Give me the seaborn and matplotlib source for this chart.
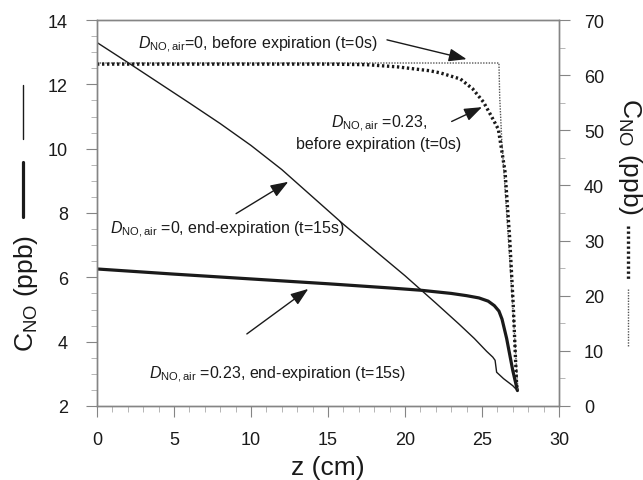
import seaborn as sns
import matplotlib.pyplot as plt
from matplotlib.lines import Line2D
from matplotlib.ticker import MultipleLocator

# D_NO,air = 0, end-expiration (t=15s)  -> left axis, thin solid
z_end_d0 = [0, 2, 4, 6, 8, 10, 12, 14, 16, 18, 20, 22, 23.5, 24.5, 25.3, 25.7, 25.85,
            25.95, 26.4, 27.0, 27.3]
c_end_d0 = [13.3, 12.68, 12.05, 11.42, 10.78, 10.1, 9.35, 8.5, 7.65, 6.85, 6.05, 5.2,
            4.55, 4.1, 3.7, 3.52, 3.42, 3.05, 2.85, 2.63, 2.48]

# D_NO,air = 0.23, end-expiration (t=15s) -> left axis, thick solid
z_end_d23 = [0, 5, 10, 15, 19, 21, 23, 24, 24.8, 25.4, 25.8, 26.1, 26.3, 26.6, 27.0, 27.3]
c_end_d23 = [6.26, 6.1, 5.95, 5.8, 5.67, 5.6, 5.5, 5.43, 5.36, 5.26, 5.12, 4.95, 4.7,
             4.1, 3.1, 2.48]

# D_NO,air = 0.23, before expiration (t=0s) -> right axis, thick dotted
z_pre_d23 = [0, 15, 17.5, 19.5, 21.6, 22.3, 23.6, 24.4, 25.1, 25.6, 26.06, 26.3, 26.5,
             26.8, 27.03, 27.25, 27.3]
c_pre_d23 = [62, 62, 61.9, 61.5, 60.8, 60.4, 59.3, 57.5, 55.1, 52.6, 50.2, 46, 42.4,
             30.3, 18.2, 3.7, 2.9]

# D_NO,air = 0, before expiration (t=0s) -> right axis, thin dotted
z_pre_d0 = [0, 26.1, 26.15, 26.28, 26.6, 27.0, 27.33]
c_pre_d0 = [62.2, 62.2, 56, 48.4, 35, 18, 2.9]

x_ticks = [0, 5, 10, 15, 20, 25, 30]
left_ticks = [2, 4, 6, 8, 10, 12, 14]
right_ticks = [0, 10, 20, 30, 40, 50, 60, 70]

sns.set_theme(style="white")
plt.rcParams['font.family'] = ['Liberation Sans', 'DejaVu Sans']
plt.rcParams['mathtext.fontset'] = 'custom'
plt.rcParams['mathtext.rm'] = 'Liberation Sans'
plt.rcParams['mathtext.it'] = 'Liberation Sans:italic'
plt.rcParams['mathtext.bf'] = 'Liberation Sans:bold'

txt = '#1a1a1a'
spine_c = '#858585'
W, H = 643, 481

fig = plt.figure(figsize=(W / 100, H / 100), dpi=100)
ax = fig.add_axes([97 / W, 1 - 407 / H, 462 / W, 386 / H])
ax2 = ax.twinx()

sns.lineplot(x=z_end_d0, y=c_end_d0, ax=ax, color='k', lw=1.0, sort=False, estimator=None)
sns.lineplot(x=z_end_d23, y=c_end_d23, ax=ax, color='k', lw=2.3, sort=False, estimator=None)
sns.lineplot(x=z_pre_d0, y=c_pre_d0, ax=ax2, color='#555555', lw=1.0, sort=False,
             estimator=None, linestyle=(0, (1, 1)))
sns.lineplot(x=z_pre_d23, y=c_pre_d23, ax=ax2, color='k', lw=2.4, sort=False,
             estimator=None, linestyle=(0, (0.7, 0.8)))

ax.set_xlim(0, 30)
ax.set_ylim(2, 14)
ax2.set_ylim(0, 70)
ax.set_xticks(x_ticks)
ax.set_yticks(left_ticks)
ax2.set_yticks(right_ticks)
ax.xaxis.set_minor_locator(MultipleLocator(1))
ax.yaxis.set_minor_locator(MultipleLocator(0.5))
ax2.yaxis.set_minor_locator(MultipleLocator(5))

for a in (ax, ax2):
    for s in a.spines.values():
        s.set_color(spine_c)
        s.set_linewidth(1.0)
    a.tick_params(which='major', direction='out', length=8, width=0.8, color=spine_c,
                  labelsize=13, labelcolor=txt)
    a.tick_params(which='minor', direction='out', length=4, width=0.6, color='#aaaaaa')
ax.tick_params(axis='y', which='major', pad=13, left=True)
ax.tick_params(axis='y', which='minor', left=True)
ax.tick_params(axis='x', which='both', bottom=True)
ax.tick_params(axis='x', which='major', pad=10)
ax2.tick_params(axis='y', which='both', right=True)
ax2.tick_params(axis='y', which='major', pad=10)
ax.set_xlabel('')
ax.set_ylabel('')
ax2.set_ylabel('')

fig.text((97 + 559) / 2 / W, 1 - 468 / H, 'z (cm)', ha='center', va='center',
         fontsize=19, color=txt)
fig.text(26 / W, 1 - 293 / H, r'$\mathrm{C}_{\mathrm{NO}}$ (ppb)', rotation=90,
         ha='center', va='center', fontsize=19, color=txt)
fig.text(630 / W, 1 - 157 / H, r'$\mathrm{C}_{\mathrm{NO}}$ (ppb)', rotation=270,
         ha='center', va='center', fontsize=19, color=txt)

# line-style keys next to the axis labels
fig.add_artist(Line2D([23 / W] * 2, [1 - 86 / H, 1 - 140 / H], color='k', lw=1.0))
fig.add_artist(Line2D([23 / W] * 2, [1 - 163 / H, 1 - 218 / H], color='k', lw=2.3))
fig.add_artist(Line2D([628 / W] * 2, [1 - 227 / H, 1 - 280 / H], color='k', lw=2.4,
                      linestyle=(0, (0.7, 0.8))))
fig.add_artist(Line2D([628 / W] * 2, [1 - 290 / H, 1 - 347 / H], color='#555555', lw=1.0,
                      linestyle=(0, (1, 1))))

D = r'$D_{\mathrm{NO,air}}$'
fs = 11.5
arrow = dict(arrowstyle='-|>,head_length=0.9,head_width=0.33', color='k', lw=1.0,
             shrinkA=0, shrinkB=0)

ax.text(10.45, 13.25, D + '=0, before expiration (t=0s)', ha='center', va='center',
        fontsize=fs, color=txt)
ax2.annotate('', xy=(24.0, 62.9), xytext=(18.83, 66.4), arrowprops=arrow)

ax2.text(18.31, 49.7, D + ' =0.23,\nbefore expiration (t=0s)', ha='center', va='center',
         fontsize=fs, color=txt, linespacing=1.25)
ax2.annotate('', xy=(25.0, 54.2), xytext=(23.03, 51.6), arrowprops=arrow)

ax.text(8.47, 7.5, D + ' =0, end-expiration (t=15s)', ha='center', va='center',
        fontsize=fs, color=txt)
ax.annotate('', xy=(12.42, 8.97), xytext=(9.03, 7.98), arrowprops=arrow)

ax.text(11.75, 3.0, D + ' =0.23, end-expiration (t=15s)', ha='center', va='center',
        fontsize=fs, color=txt)
ax.annotate('', xy=(13.72, 5.64), xytext=(9.73, 4.24), arrowprops=arrow)

fig.savefig('out.png', dpi=100)
